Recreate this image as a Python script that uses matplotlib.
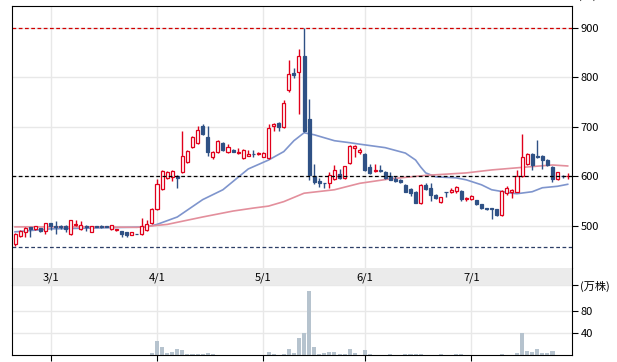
import matplotlib
matplotlib.use("Agg")
import matplotlib.pyplot as plt
import numpy as np

plt.rcParams["font.family"] = ["Noto Sans CJK JP", "DejaVu Sans"]
plt.rcParams["font.size"] = 8

# 日足 (四本値) - 左から順に
opens = [
    463, 480, 488, 497, 493, 495, 490, 505, 500, 499,
    499, 483, 502, 493, 500, 488, 499, 500, 499, 493,
    491, 489, 487, 482, 484, 483, 492, 505, 534, 574,
    596, 598, 601, 608, 630, 659, 667, 701, 680, 640,
    649, 668, 650, 654, 647, 638, 642, 646, 645, 640,
    637, 701, 707, 699, 775, 808, 810, 843, 716, 601,
    591, 587, 586, 594, 605, 596, 627, 657, 650, 646,
    619, 610, 613, 608, 600, 594, 593, 583, 574, 568,
    547, 583, 576, 563, 548, 569, 569, 571, 571, 554,
    554, 552, 544, 536, 536, 534, 522, 567, 569, 569,
    600, 625, 645, 642, 642, 633, 618, 594, 601, 600]
closes = [
    484, 490, 495, 493, 499, 489, 505, 500, 497, 497,
    493, 511, 504, 502, 497, 499, 498, 497, 498, 501,
    493, 483, 481, 487, 483, 499, 503, 534, 584, 610,
    608, 611, 596, 641, 652, 679, 693, 685, 650, 650,
    672, 654, 660, 650, 650, 654, 645, 645, 648, 648,
    697, 706, 699, 748, 807, 805, 843, 691, 603, 588,
    586, 586, 603, 612, 596, 620, 662, 662, 654, 613,
    606, 613, 610, 596, 593, 590, 588, 569, 567, 547,
    583, 574, 563, 556, 558, 568, 573, 578, 555, 556,
    561, 544, 536, 534, 535, 522, 571, 576, 573, 600,
    639, 645, 623, 639, 633, 622, 594, 608, 600, 601]
highs = [
    485, 491, 497, 498, 500, 496, 506, 506, 510, 501,
    502, 512, 511, 509, 501, 500, 500, 501, 500, 502,
    494, 490, 488, 488, 484, 516, 512, 536, 595, 612,
    610, 613, 603, 692, 654, 681, 702, 706, 701, 652,
    674, 670, 666, 655, 657, 656, 654, 654, 650, 650,
    706, 708, 709, 755, 835, 819, 857, 900, 757, 625,
    596, 587, 609, 623, 614, 621, 664, 663, 657, 648,
    625, 625, 622, 610, 608, 600, 594, 585, 576, 570,
    584, 586, 586, 564, 559, 569, 576, 581, 573, 559,
    562, 553, 545, 536, 536, 535, 573, 581, 574, 612,
    686, 647, 647, 674, 644, 635, 620, 609, 603, 606]
lows = [
    459, 477, 477, 477, 491, 488, 483, 492, 483, 493,
    487, 482, 499, 492, 490, 487, 497, 496, 497, 492,
    490, 477, 477, 481, 483, 482, 490, 504, 533, 572,
    595, 590, 576, 606, 627, 657, 665, 684, 642, 635,
    647, 652, 648, 649, 646, 636, 641, 640, 644, 639,
    636, 691, 691, 698, 771, 799, 725, 689, 593, 584,
    578, 576, 577, 593, 595, 595, 625, 640, 645, 611,
    605, 609, 609, 595, 592, 589, 587, 568, 561, 546,
    545, 573, 551, 555, 547, 559, 566, 566, 551, 551,
    553, 543, 535, 533, 513, 521, 521, 563, 556, 568,
    599, 622, 612, 637, 615, 621, 589, 593, 596, 594]

# 出来高 (万株)
volume = [
    0, 0, 0, 0, 0, 0, 0, 0, 0, 0,
    0, 0, 0, 0, 0, 0, 0, 0, 0, 0,
    0, 0, 0, 0, 0, 0, 0, 4, 25, 14,
    4, 6, 10, 9, 2, 2, 2, 2, 3.5, 2,
    0, 0, 0, 0, 0, 0, 0, 0, 0, 0,
    5, 2, 0, 2, 10, 4, 30, 40, 117, 14,
    2, 4, 5, 5, 2, 2, 11, 3.5, 0, 9.5,
    2, 0, 0, 0, 1.5, 0, 0, 1.5, 1.5, 1.5,
    1.5, 0, 0, 0, 1.5, 0, 0, 1.5, 1.5, 0,
    0, 0, 0, 0, 0, 0, 1.5, 0, 0, 4,
    40, 7.5, 6, 10.5, 4, 4, 7, 0, 0, 0]

# 移動平均線 (読み取り値)
ma_short_idx = [0, 7, 17, 26, 28, 32, 37, 41, 46, 50, 53, 55, 57, 59, 63, 66, 68, 73, 77, 79,
                80, 81, 83, 87, 89, 92, 94, 98, 99, 102, 104, 107, 109]
ma_short = [488, 494, 496, 498, 503, 518, 553, 573, 615, 633, 650, 672, 688, 684, 672, 668, 665, 658, 647, 633,
            619, 607, 599, 597, 593, 583, 573, 566, 565, 569, 577, 580, 584]
ma_long_idx = [0, 17, 24, 30, 37, 43, 47, 50, 53, 57, 63, 68, 74, 78, 81, 89, 94, 101, 106, 109]
ma_long = [498, 498, 497, 503, 518, 530, 536, 540, 549, 566, 573, 586, 595, 599, 602, 607, 613, 619, 623, 621]

month_labels = ["3/1", "4/1", "5/1", "6/1", "7/1"]
month_idx = [7, 28, 49, 69, 90]

year_high = 900
year_low = 458
last_close = 600

RED = "#e0001b"
BLUE = "#2f5185"
GRID = "#e8e8e8"

o = np.array(opens, dtype=float)
c = np.array(closes, dtype=float)
h = np.array(highs, dtype=float)
l = np.array(lows, dtype=float)
x = np.arange(len(o))
up = c >= o
cols = np.where(up, RED, BLUE)
faces = np.where(up, "white", BLUE)

W, H = 617, 362


def box(top, bottom):
    return [12 / W, 1 - bottom / H, 560 / W, (bottom - top) / H]


fig = plt.figure(figsize=(W / 100, H / 100), dpi=100)
ax = fig.add_axes(box(6, 268))
band = fig.add_axes(box(268, 285), sharex=ax)
axv = fig.add_axes(box(285, 355), sharex=ax)

# 価格チャート
ax.plot(ma_short_idx, ma_short, color="#7f95cd", lw=1.2, zorder=2)
ax.plot(ma_long_idx, ma_long, color="#e38f9c", lw=1.2, zorder=2)
ax.vlines(x, l, h, colors=cols, lw=1, zorder=3)
ax.bar(x, np.abs(c - o), bottom=np.minimum(o, c), width=0.6, color=faces,
       edgecolor=cols, linewidth=0.9, zorder=4)

ax.axhline(year_high, color="#d10000", lw=0.9, ls=(0, (3, 2)), zorder=1)
ax.axhline(last_close, color="black", lw=0.9, ls=(0, (3, 2)), zorder=5)
ax.axhline(year_low, color="#2c3e66", lw=0.9, ls=(0, (3, 2)), zorder=1)

ax.set_xlim(-0.6, 109.85)
ax.set_ylim(415, 944)
ax.set_xticks(month_idx)
ax.yaxis.tick_right()
ax.set_yticks([500, 600, 700, 800, 900])
ax.grid(color=GRID, lw=1, zorder=0)
ax.set_axisbelow(True)
ax.tick_params(axis="x", length=0, labelbottom=False)
ax.tick_params(axis="y", direction="out", length=4, pad=2, colors="black", labelsize=8)
ax.spines["bottom"].set_visible(False)
ax.annotate("(円)", xy=(1, 1), xycoords="axes fraction", xytext=(4.3, 7.5),
            textcoords="offset points", va="center", ha="left", fontsize=8)

# 日付帯
band.set_facecolor("#ebebeb")
band.set_ylim(0, 1)
for i, lab in zip(month_idx, month_labels):
    band.text(i, 0.45, lab, ha="center", va="center", fontsize=8)
band.tick_params(left=False, right=False, bottom=False, labelbottom=False, labelleft=False)
band.spines["top"].set_visible(False)
band.spines["bottom"].set_visible(False)

# 出来高
axv.bar(x, volume, width=0.8, color="#b6c3ce", zorder=2)
axv.set_ylim(0, 127)
axv.yaxis.tick_right()
axv.set_yticks([40, 80, 127])
axv.set_yticklabels(["40", "80", "(万株)"])
axv.grid(color=GRID, lw=1, zorder=0)
axv.set_axisbelow(True)
axv.tick_params(axis="x", direction="out", length=4, labelbottom=False)
axv.tick_params(axis="y", direction="out", length=4, pad=2, labelsize=8)
axv.spines["top"].set_visible(False)

fig.savefig("out.png", dpi=100)
